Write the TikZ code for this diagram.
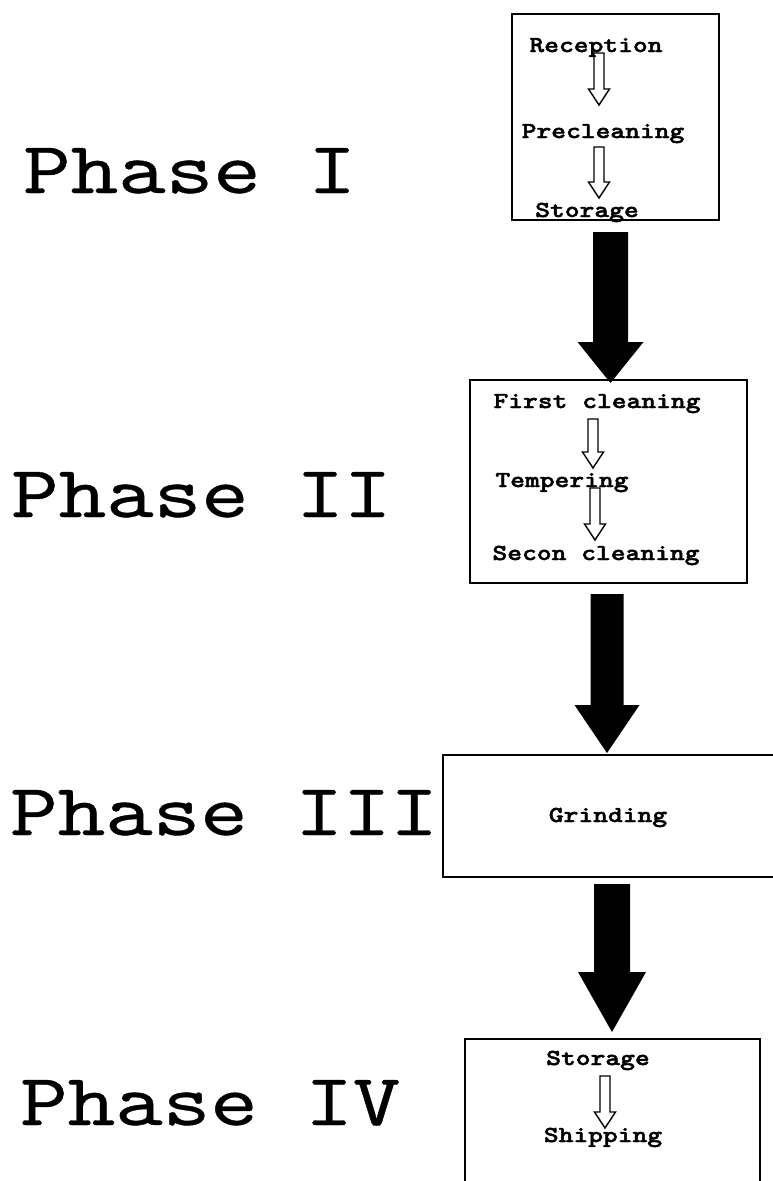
\documentclass[tikz,border=0pt]{standalone}
\usepackage{fontspec}
% typewriter faces, widened to a Courier-like proportion
\newfontfamily\phasefont{lmmono10-regular.otf}[FakeStretch=1.23, FakeBold=0.5]
\newfontfamily\stepfont{lmmonolt10-bold.otf}[FakeStretch=1.23, FakeBold=2]
\usetikzlibrary{calc}

% block arrow from #2 (top of shaft) to #3 (tip);
% #4 half shaft width, #5 half head width, #6 head length
\newcommand\flowarrow[6]{%
  \path[#1] ($(#2)+(-#4,0)$) -- ($(#3)+(-#4,-#6)$) -- ($(#3)+(-#5,-#6)$)
    -- (#3) -- ($(#3)+(#5,-#6)$) -- ($(#3)+(#4,-#6)$) -- ($(#2)+(#4,0)$) -- cycle;}

\tikzset{
  phaselabel/.style={font=\phasefont\fontsize{73.6}{74}\selectfont, anchor=base west, inner sep=0pt},
  steptext/.style={font=\stepfont\fontsize{22.9}{23}\selectfont, anchor=base, inner sep=0pt},
  frame/.style={draw, line width=2.4pt, inner sep=0pt},
  hollowarrow/.style={draw, line width=1.4pt, line join=miter},
  bigarrow/.style={fill=black},
}

\begin{document}
\begin{tikzpicture}[x=1pt, y=-1pt]
\useasboundingbox (0,0) rectangle (773,1181);
\clip (0,0) rectangle (773,1181);

% phase labels
\node[phaselabel] (ph1) at (23,193) {Phase I};
\node[phaselabel] (ph2) at (11,517) {Phase II};
\node[phaselabel] (ph3) at (10,835) {Phase III};
\node[phaselabel] (ph4) at (20,1125) {Phase IV};

% phase boxes
\node[frame, minimum width=207pt, minimum height=206pt] (box1) at (615.5,117) {};
\node[frame, minimum width=277pt, minimum height=203pt] (box2) at (608.5,481.5) {};
\node[frame, minimum width=333pt, minimum height=122pt] (box3) at (609.5,816) {};
\node[frame, minimum width=295pt, minimum height=161pt] (box4) at (612.5,1119.5) {};

% steps of phase I
\node[steptext] (rec) at (596,52) {Reception};
\node[steptext] (prec) at (603,138) {Precleaning};
\node[steptext] (sto1) at (587,217) {Storage};
% steps of phase II
\node[steptext] (first) at (597,408) {First cleaning};
\node[steptext] (temp) at (562,487) {Tempering};
\node[steptext] (second) at (596,560) {Secon cleaning};
% phase III
\node[steptext] (grind) at (608,822) {Grinding};
% steps of phase IV
\node[steptext] (sto2) at (598,1065) {Storage};
\node[steptext] (ship) at (603,1142) {Shipping};

% hollow arrows between steps
\coordinate (a1s) at (599,53);   \coordinate (a1e) at (599,105);
\coordinate (a2s) at (599,147);  \coordinate (a2e) at (599,198);
\coordinate (a3s) at (593,419);  \coordinate (a3e) at (593,468);
\coordinate (a4s) at (595,488);  \coordinate (a4e) at (595,540);
\coordinate (a5s) at (605,1076); \coordinate (a5e) at (605,1128);
\flowarrow{hollowarrow}{a1s}{a1e}{5}{10.5}{16}
\flowarrow{hollowarrow}{a2s}{a2e}{5}{10.5}{16}
\flowarrow{hollowarrow}{a3s}{a3e}{5}{10.5}{16}
\flowarrow{hollowarrow}{a4s}{a4e}{5}{10.5}{16}
\flowarrow{hollowarrow}{a5s}{a5e}{5}{10.5}{16}

% solid arrows between phases
\coordinate (k1s) at (610.5,232);  \coordinate (k1e) at (610.5,383);
\coordinate (k2s) at (607,594);    \coordinate (k2e) at (607,753);
\coordinate (k3s) at (612,884);    \coordinate (k3e) at (612,1032);
\flowarrow{bigarrow}{k1s}{k1e}{17.5}{33}{41}
\flowarrow{bigarrow}{k2s}{k2e}{16.5}{32.5}{48}
\flowarrow{bigarrow}{k3s}{k3e}{18}{34}{60}
\end{tikzpicture}
\end{document}
